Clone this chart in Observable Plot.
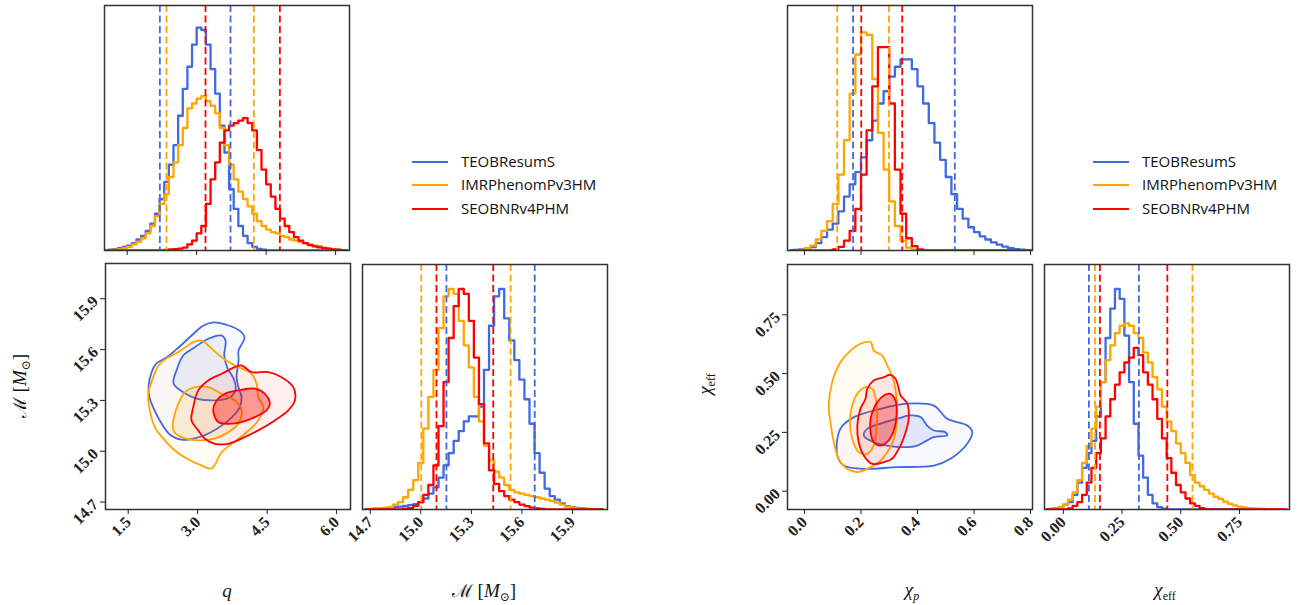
<!DOCTYPE html>
<html><head><meta charset="utf-8">
<script src="https://cdn.jsdelivr.net/npm/d3@7"></script>
<script src="https://cdn.jsdelivr.net/npm/@observablehq/plot@0.6"></script>
<style>
body{margin:0;background:#fff;}
#root{position:relative;width:1301px;height:605px;overflow:hidden;background:#fff;}
.panel{position:absolute;}
.lab{position:absolute;font-family:"Liberation Serif","DejaVu Serif",serif;font-size:19px;color:#111;white-space:nowrap;transform:translate(-50%,-50%);line-height:1;}
.lab.rot{transform:translate(-50%,-50%) rotate(-90deg);}
.lab sub{font-size:12px;vertical-align:-4px;}
.scr{font-family:"DejaVu Serif",serif;font-size:18px;}
.leg{position:absolute;font-family:"Open Sans",sans-serif;font-size:15px;color:#111;white-space:nowrap;}
.legline{position:absolute;height:0;border-top:2.5px solid;}
</style></head><body><div id="root"></div><script>
// ---------- data ----------
const models = ["TEOBResumS","IMRPhenomPv3HM","SEOBNRv4PHM"];
const colors = ["#4169e1","#ffa500","#ff0000"];

const qTicks = [1.5, 3.0, 4.5, 6.0];
const mTicks = [14.7, 15.0, 15.3, 15.6, 15.9];
const chipTicks = [0.0, 0.2, 0.4, 0.6, 0.8];
const chieffTicks = [0.0, 0.25, 0.5, 0.75];

// histogram bin grids: [first centre, width, count]
const qGrid = [1.05, 0.1, 53];
const mGrid = [14.67, 0.03, 48];
const chipGrid = [-0.05, 0.02, 44];
const chieffGrid = [-0.07, 0.02, 52];

const qBlue = [0,0.003,0.006,0.01,0.015,0.02,0.03,0.045,0.06,0.08,0.11,0.15,0.21,0.28,0.35,0.43,0.55,0.66,0.75,0.84,0.91,0.90,0.84,0.74,0.64,0.51,0.40,0.25,0.17,0.10,0.06,0.03,0.015,0.007,0.003,0,0,0,0,0,0,0,0,0,0,0,0,0,0,0,0,0,0];
const qOrange = [0,0,0.003,0.006,0.01,0.015,0.025,0.035,0.05,0.07,0.10,0.14,0.19,0.23,0.30,0.36,0.43,0.50,0.58,0.60,0.62,0.63,0.61,0.59,0.56,0.50,0.43,0.35,0.29,0.24,0.21,0.18,0.15,0.12,0.10,0.085,0.075,0.07,0.06,0.055,0.045,0.04,0.035,0.03,0.025,0.02,0.018,0.012,0.008,0.005,0.003,0.001,0];
const qRed = [0,0,0,0,0,0,0,0,0,0,0,0,0,0.002,0.004,0.006,0.008,0.012,0.025,0.04,0.07,0.10,0.19,0.29,0.36,0.44,0.49,0.51,0.52,0.53,0.54,0.52,0.49,0.41,0.33,0.27,0.22,0.17,0.13,0.10,0.075,0.055,0.04,0.03,0.022,0.017,0.013,0.01,0.008,0.005,0.003,0.001,0];

const mBlue = [0,0.001,0.002,0.004,0.006,0.008,0.01,0.012,0.015,0.018,0.022,0.03,0.045,0.065,0.09,0.13,0.18,0.23,0.28,0.32,0.36,0.38,0.38,0.42,0.57,0.75,0.87,0.90,0.78,0.69,0.61,0.53,0.45,0.35,0.23,0.15,0.085,0.055,0.04,0.025,0.014,0.01,0.007,0.005,0.002,0,0,0];
const mOrange = [0,0.002,0.004,0.006,0.008,0.01,0.02,0.03,0.05,0.08,0.12,0.19,0.33,0.46,0.57,0.74,0.87,0.90,0.88,0.77,0.67,0.58,0.46,0.36,0.26,0.20,0.155,0.13,0.10,0.08,0.07,0.065,0.06,0.055,0.05,0.045,0.04,0.035,0.028,0.02,0.012,0.008,0.004,0.002,0,0,0,0];
const mRed = [0,0,0,0,0,0,0,0,0.003,0.006,0.015,0.03,0.06,0.10,0.18,0.34,0.52,0.70,0.83,0.90,0.88,0.77,0.62,0.43,0.27,0.16,0.105,0.075,0.055,0.04,0.03,0.02,0.014,0.008,0.005,0.002,0,0,0,0,0,0,0,0,0,0,0,0];

const chipBlue = [0,0.002,0.004,0.008,0.014,0.03,0.055,0.085,0.11,0.16,0.22,0.27,0.32,0.38,0.45,0.53,0.60,0.65,0.71,0.75,0.78,0.78,0.74,0.67,0.60,0.52,0.44,0.37,0.30,0.23,0.17,0.13,0.095,0.075,0.058,0.045,0.033,0.024,0.016,0.01,0.006,0.003,0.001,0];
const chipOrange = [0,0,0.002,0.008,0.02,0.045,0.08,0.12,0.19,0.31,0.45,0.64,0.80,0.89,0.88,0.70,0.48,0.33,0.20,0.10,0.04,0.012,0.003,0,0,0,0,0,0,0,0,0,0,0,0,0,0,0,0,0,0,0,0,0];
const chipRed = [0,0,0,0,0,0,0,0,0.005,0.015,0.04,0.08,0.17,0.31,0.49,0.67,0.83,0.83,0.60,0.33,0.15,0.05,0.018,0.005,0,0,0,0,0,0,0,0,0,0,0,0,0,0,0,0,0,0,0,0];

const chieffBlue = [0,0.002,0.005,0.01,0.02,0.03,0.06,0.11,0.17,0.23,0.28,0.38,0.52,0.70,0.82,0.90,0.86,0.71,0.52,0.35,0.22,0.13,0.06,0.025,0.01,0.003,0,0,0,0,0,0,0,0,0,0,0,0,0,0,0,0,0,0,0,0,0,0,0,0,0,0];
const chieffOrange = [0,0.002,0.005,0.01,0.02,0.04,0.07,0.12,0.19,0.26,0.33,0.42,0.52,0.61,0.67,0.72,0.75,0.76,0.75,0.72,0.70,0.64,0.60,0.54,0.49,0.42,0.36,0.32,0.27,0.23,0.19,0.14,0.11,0.095,0.08,0.065,0.052,0.043,0.032,0.023,0.017,0.012,0.009,0.006,0.004,0.003,0.002,0.001,0,0,0,0];
const chieffRed = [0,0,0,0,0,0.005,0.015,0.03,0.06,0.11,0.17,0.23,0.29,0.38,0.45,0.51,0.56,0.60,0.62,0.66,0.63,0.56,0.51,0.45,0.37,0.29,0.21,0.15,0.10,0.07,0.045,0.025,0.015,0.006,0,0,0,0,0,0,0,0,0,0,0,0,0,0,0,0,0,0];

// dashed credible bounds [low, high] per model
const qBounds = [[2.205, 3.731], [2.349, 4.235], [3.191, 4.797]];
const mBounds = [[15.152, 15.676], [15.003, 15.533], [15.093, 15.430]];
const chipBounds = [[0.172, 0.532], [0.116, 0.299], [0.201, 0.346]];
const chieffBounds = [[0.109, 0.322], [0.135, 0.550], [0.156, 0.443]];

// 2D credible contours (q, Mc)
const qmBlueOuter = [[2.003,15.465],[2.111,15.518],[2.327,15.553],[2.587,15.612],[2.868,15.683],[3.127,15.742],[3.343,15.760],[3.667,15.742],[3.904,15.712],[4.012,15.672],[3.883,15.595],[3.883,15.536],[3.840,15.436],[3.883,15.376],[3.948,15.317],[3.904,15.257],[3.732,15.198],[3.40,15.13],[3.05,15.085],[2.65,15.068],[2.392,15.100],[2.220,15.164],[2.068,15.241],[1.960,15.317],[1.939,15.376]];
const qmBlueInner = [[2.479,15.400],[2.543,15.477],[2.688,15.565],[2.939,15.614],[3.228,15.664],[3.516,15.683],[3.602,15.654],[3.574,15.565],[3.645,15.489],[3.775,15.429],[3.818,15.359],[3.645,15.311],[3.300,15.300],[2.976,15.311],[2.695,15.347]];
const qmOrangeOuter = [[2.904,15.644],[3.083,15.654],[3.228,15.624],[3.516,15.555],[3.803,15.506],[4.164,15.457],[4.272,15.398],[4.308,15.319],[4.416,15.260],[4.308,15.182],[4.019,15.103],[3.732,15.044],[3.516,14.993],[3.300,14.898],[3.083,14.916],[2.759,14.957],[2.507,15.004],[2.291,15.064],[2.075,15.142],[1.967,15.241],[1.932,15.339],[2.040,15.437],[2.155,15.506],[2.327,15.548],[2.565,15.583],[2.759,15.618]];
const qmOrangeInner = [[2.651,15.319],[2.723,15.349],[2.939,15.378],[3.228,15.378],[3.516,15.339],[3.803,15.300],[3.948,15.241],[3.876,15.162],[3.660,15.112],[3.371,15.074],[3.012,15.064],[2.651,15.083],[2.472,15.123],[2.507,15.221]];
const qmRedOuter = [[2.867,15.182],[2.904,15.260],[3.012,15.359],[3.228,15.418],[3.516,15.457],[3.803,15.496],[3.948,15.506],[4.164,15.467],[4.524,15.467],[4.812,15.437],[5.065,15.378],[5.099,15.300],[4.956,15.241],[4.667,15.182],[4.308,15.123],[3.948,15.074],[3.660,15.044],[3.371,15.044],[3.155,15.074],[3.012,15.123]];
const qmRedInner = [[3.336,15.241],[3.408,15.300],[3.587,15.339],[3.876,15.359],[4.235,15.369],[4.451,15.339],[4.559,15.280],[4.488,15.241],[4.235,15.201],[3.948,15.172],[3.660,15.162],[3.444,15.172]];

// 2D credible contours (chi_p, chi_eff)
const ceBlueOuter = [[0.116,0.152],[0.127,0.265],[0.175,0.315],[0.269,0.350],[0.364,0.372],[0.458,0.364],[0.505,0.308],[0.576,0.279],[0.594,0.251],[0.576,0.202],[0.517,0.138],[0.458,0.109],[0.328,0.102],[0.204,0.095],[0.139,0.109]];
const ceBlueInner = [[0.210,0.237],[0.222,0.265],[0.269,0.287],[0.328,0.308],[0.375,0.322],[0.411,0.315],[0.434,0.279],[0.458,0.258],[0.499,0.251],[0.505,0.237],[0.458,0.230],[0.434,0.216],[0.399,0.194],[0.352,0.187],[0.293,0.194],[0.245,0.208]];
const ceOrangeOuter = [[0.198,0.627],[0.234,0.634],[0.245,0.598],[0.275,0.577],[0.293,0.535],[0.310,0.492],[0.322,0.435],[0.328,0.364],[0.326,0.293],[0.317,0.223],[0.293,0.166],[0.263,0.123],[0.222,0.095],[0.187,0.081],[0.151,0.095],[0.121,0.138],[0.104,0.208],[0.092,0.293],[0.086,0.364],[0.098,0.463],[0.127,0.548],[0.163,0.598]];
const ceOrangeInner = [[0.169,0.364],[0.187,0.414],[0.216,0.442],[0.240,0.435],[0.251,0.400],[0.257,0.336],[0.255,0.265],[0.245,0.194],[0.222,0.159],[0.192,0.166],[0.169,0.223],[0.161,0.293]];
const ceRedOuter = [[0.222,0.435],[0.245,0.471],[0.281,0.485],[0.304,0.495],[0.322,0.478],[0.334,0.435],[0.340,0.407],[0.364,0.372],[0.369,0.308],[0.358,0.251],[0.340,0.194],[0.310,0.138],[0.281,0.123],[0.240,0.116],[0.210,0.152],[0.192,0.208],[0.187,0.279],[0.198,0.350],[0.216,0.393]];
const ceRedInner = [[0.257,0.378],[0.281,0.407],[0.304,0.414],[0.322,0.386],[0.326,0.322],[0.316,0.258],[0.298,0.216],[0.269,0.194],[0.245,0.208],[0.234,0.251],[0.234,0.308],[0.245,0.350]];

// ---------- drawing ----------
const root = document.getElementById("root");
const SIZE = 245;
const font = {fontFamily: '"Liberation Serif","DejaVu Serif",serif', fontSize: "16px", fontWeight: "bold", background: "transparent", color: "#222", overflow: "visible"};

function centres([start, step, n]) {
  return d3.range(n).map(i => +(start + i * step).toFixed(5));
}
function place(svg, left, top) {
  const d = document.createElement("div");
  d.className = "panel";
  d.style.left = left + "px";
  d.style.top = top + "px";
  d.appendChild(svg);
  root.appendChild(d);
}

function hist({grid, series, bounds, domain, ticks, fmt, labels, left, top}) {
  const mL = 4, mT = 4, mR = 4, mB = labels ? 60 : 12;
  const xs = centres(grid);
  const marks = [];
  series.forEach((vals, i) => {
    marks.push(Plot.line(xs.map((x, j) => ({x, y: vals[j]})), {
      x: "x", y: "y", curve: "step", stroke: colors[i], strokeWidth: 2.3, clip: true
    }));
  });
  bounds.forEach((b, i) => {
    marks.push(Plot.ruleX(b, {stroke: colors[i], strokeWidth: 1.8, strokeDasharray: "7,3.5"}));
  });
  marks.push(Plot.frame({stroke: "#333", strokeWidth: 1.5}));
  marks.push(Plot.axisX(ticks, {
    tickSize: 5, tickRotate: -45, label: null, tickPadding: 5,
    tickFormat: labels ? fmt : () => ""
  }));
  const svg = Plot.plot({
    width: SIZE + mL + mR, height: SIZE + mT + mB,
    marginLeft: mL, marginTop: mT, marginRight: mR, marginBottom: mB,
    style: font,
    x: {domain},
    y: {domain: [0, 1], axis: null},
    marks
  });
  place(svg, left - mL, top - mT);
}

function scatter({contours, xDomain, yDomain, xTicks, yTicks, xFmt, yFmt, left, top, h}) {
  const mL = 60, mT = 4, mR = 4, mB = 60;
  const marks = [];
  contours.forEach(c => {
    marks.push(Plot.line(c.pts, {
      x: d => d[0], y: d => d[1], curve: "catmull-rom-closed",
      stroke: colors[c.model], strokeWidth: 1.8,
      fill: colors[c.model], fillOpacity: c.op, clip: true
    }));
  });
  marks.push(Plot.frame({stroke: "#333", strokeWidth: 1.5}));
  marks.push(Plot.axisX(xTicks, {tickSize: 5, tickRotate: -45, label: null, tickFormat: xFmt, tickPadding: 5}));
  marks.push(Plot.axisY(yTicks, {tickSize: 5, tickRotate: -45, label: null, tickFormat: yFmt, tickPadding: 5}));
  const svg = Plot.plot({
    width: SIZE + mL + mR, height: h + mT + mB,
    marginLeft: mL, marginTop: mT, marginRight: mR, marginBottom: mB,
    style: font,
    x: {domain: xDomain},
    y: {domain: yDomain},
    marks
  });
  place(svg, left - mL, top - mT);
}

const f1 = d3.format(".1f"), f2 = d3.format(".2f");

// left corner
hist({grid: qGrid, series: [qBlue, qOrange, qRed], bounds: qBounds, domain: [1.01, 6.30],
      ticks: qTicks, fmt: f1, labels: false, left: 104, top: 5});
scatter({
  contours: [
    {pts: qmBlueOuter, model: 0, op: 0.03}, {pts: qmBlueInner, model: 0, op: 0.08},
    {pts: qmOrangeOuter, model: 1, op: 0.04}, {pts: qmOrangeInner, model: 1, op: 0.12},
    {pts: qmRedOuter, model: 2, op: 0.06}, {pts: qmRedInner, model: 2, op: 0.36}
  ],
  xDomain: [1.01, 6.30], yDomain: [14.656, 16.108], xTicks: qTicks, yTicks: mTicks,
  xFmt: f1, yFmt: f1, left: 105, top: 263, h: 246
});
hist({grid: mGrid, series: [mBlue, mOrange, mRed], bounds: mBounds, domain: [14.654, 16.108],
      ticks: mTicks, fmt: f1, labels: true, left: 362, top: 264});

// right corner
hist({grid: chipGrid, series: [chipBlue, chipOrange, chipRed], bounds: chipBounds, domain: [-0.06, 0.807],
      ticks: chipTicks, fmt: f1, labels: false, left: 787, top: 5});
scatter({
  contours: [
    {pts: ceBlueOuter, model: 0, op: 0.04}, {pts: ceBlueInner, model: 0, op: 0.12},
    {pts: ceOrangeOuter, model: 1, op: 0.04}, {pts: ceOrangeInner, model: 1, op: 0.08},
    {pts: ceRedOuter, model: 2, op: 0.08}, {pts: ceRedInner, model: 2, op: 0.32}
  ],
  xDomain: [-0.06, 0.807], yDomain: [-0.078, 0.964], xTicks: chipTicks, yTicks: chieffTicks,
  xFmt: f1, yFmt: f2, left: 787, top: 264, h: 245
});
hist({grid: chieffGrid, series: [chieffBlue, chieffOrange, chieffRed], bounds: chieffBounds, domain: [-0.08, 0.963],
      ticks: chieffTicks, fmt: f2, labels: true, left: 1044, top: 264});

// axis labels
function label(html, x, y, rot) {
  const d = document.createElement("div");
  d.className = "lab" + (rot ? " rot" : "");
  d.style.left = x + "px"; d.style.top = y + "px";
  d.innerHTML = html;
  root.appendChild(d);
}
const mcLabel = '<span class="scr">ℳ</span> [<i>M</i><sub>⊙</sub>]';
label('<i>q</i>', 227, 590);
label(mcLabel, 484, 592);
label(mcLabel, 21, 386, true);
label('<i>χ</i><sub><i>p</i></sub>', 912, 591);
label('<i>χ</i><sub>eff</sub>', 1165, 591);
label('<i>χ</i><sub>eff</sub>', 706, 384, true);

// legends
function legend(lineX, textX) {
  const rows = [162, 185, 209];
  models.forEach((m, i) => {
    const l = document.createElement("div");
    l.className = "legline";
    l.style.left = lineX + "px"; l.style.top = (rows[i] - 1) + "px";
    l.style.width = "36px"; l.style.borderColor = colors[i];
    root.appendChild(l);
    const t = document.createElement("div");
    t.className = "leg";
    t.style.left = textX + "px"; t.style.top = (rows[i] - 11) + "px";
    t.textContent = m;
    root.appendChild(t);
  });
}
legend(412, 461);
legend(1093, 1142);
</script></body></html>
